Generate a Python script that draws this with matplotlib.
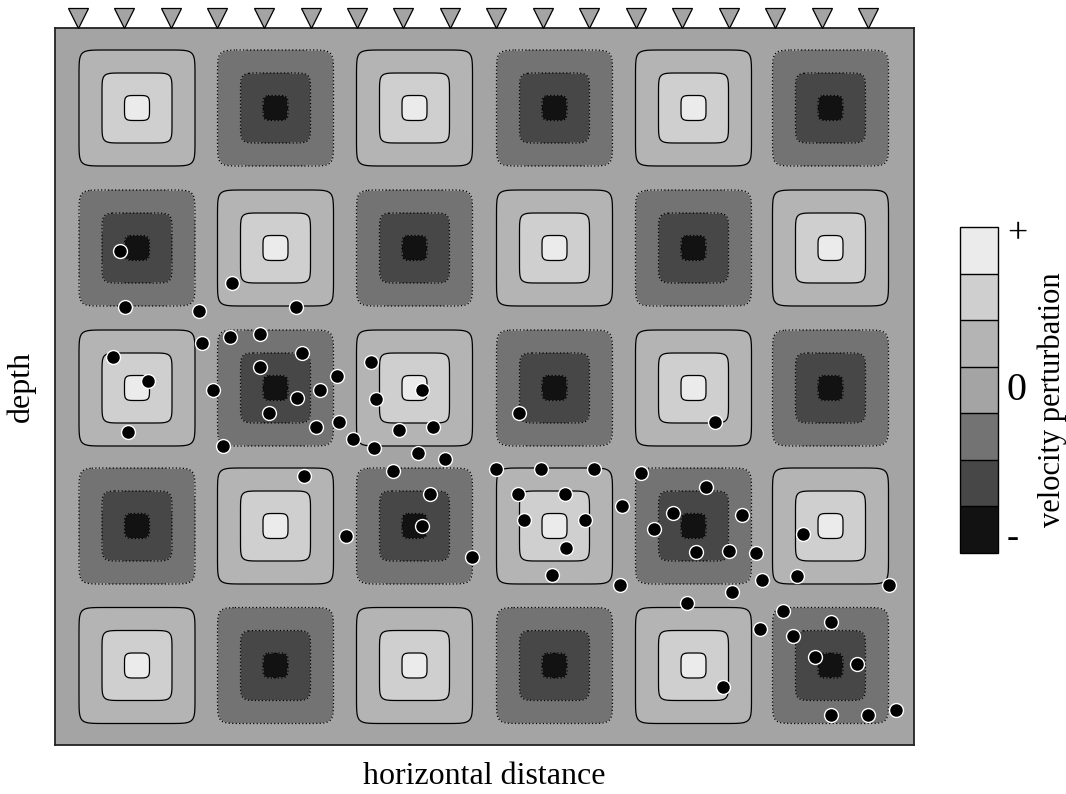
import numpy as np
import matplotlib
matplotlib.use("Agg")
import matplotlib.pyplot as plt
from matplotlib.colors import ListedColormap
from matplotlib import transforms

plt.rcParams['font.family'] = ['Liberation Serif', 'DejaVu Serif']

# checkerboard model: sign of each anomaly (rows = depth, cols = distance)
signs = [[1, -1, 1, -1, 1, -1],
         [-1, 1, -1, 1, -1, 1],
         [1, -1, 1, -1, 1, -1],
         [-1, 1, -1, 1, -1, 1],
         [1, -1, 1, -1, 1, -1]]
col_centers = [8.2, 22.05, 35.95, 49.95, 63.85, 77.55]
row_centers = [8.0, 22.0, 36.0, 49.8, 63.75]
# half widths of the three nested contours (inner, middle, outer)
contour_radii = [1.25, 3.5, 5.8]
# squareness of each contour (higher = sharper corners)
contour_power = [5, 9, 12]

level_colors = ['#121212', '#474747', '#737373', '#a4a4a4', '#b4b4b4', '#cfcfcf', '#ebebeb']

# stations along the surface
station_x = [2.3, 6.95, 11.6, 16.25, 20.9, 25.55, 30.2, 34.85, 39.5,
             44.15, 48.8, 53.45, 58.1, 62.75, 67.4, 72.05, 76.7, 81.3]

# earthquake hypocentres
quake_x = [6.5, 17.7, 7.0, 14.4, 24.1, 14.7, 17.5, 20.5, 24.7, 5.8,
           9.3, 20.5, 31.6, 28.2, 15.8, 24.2, 26.5, 32.1, 36.7, 21.4,
           26.1, 28.4, 29.8, 31.9, 34.4, 37.8, 7.3, 16.8, 36.3, 39.0,
           33.8, 24.9, 44.1, 48.6, 53.9, 58.6, 37.5, 46.3, 51.0, 56.7,
           65.1, 61.8, 68.7, 46.9, 53.0, 59.9, 36.7, 29.1, 41.7, 51.1,
           64.1, 67.4, 70.1, 49.7, 56.5, 70.7, 74.2, 83.4, 63.2, 67.7,
           72.8, 77.6, 70.5, 73.8, 76.0, 80.2, 66.8, 77.6, 81.3, 84.1,
           74.8, 46.4, 66.0]
quake_z = [22.3, 25.5, 27.9, 28.3, 27.9, 31.5, 30.9, 30.6, 32.5, 32.9,
           35.3, 33.9, 33.4, 34.8, 36.2, 37.0, 36.2, 37.1, 36.2, 38.5,
           39.9, 39.4, 41.1, 42.0, 40.2, 39.9, 40.4, 41.8, 42.5, 43.1,
           44.3, 44.8, 44.1, 44.1, 44.1, 44.5, 46.6, 46.6, 46.6, 47.8,
           45.9, 48.5, 48.7, 49.2, 49.2, 50.1, 49.8, 50.8, 52.9, 52.0,
           52.4, 52.3, 52.5, 54.7, 55.7, 55.2, 54.8, 55.7, 57.5, 56.4,
           58.3, 59.4, 60.1, 60.8, 62.9, 63.6, 65.9, 68.7, 68.7, 68.2,
           50.6, 38.5, 39.4]

XMAX, ZMAX = 85.9, 71.7

# build the perturbation field: each nested contour adds one step
x = np.linspace(0, XMAX, 1400)
z = np.linspace(0, ZMAX, 1170)
X, Z = np.meshgrid(x, z)
F = np.zeros_like(X)
for i, zc in enumerate(row_centers):
    for j, xc in enumerate(col_centers):
        dx = np.abs(X - xc)
        dz = np.abs(Z - zc)
        g = np.zeros_like(X)
        for h, p in zip(contour_radii, contour_power):
            r = (dx ** p + dz ** p) ** (1.0 / p)
            g += np.clip(0.5 + (h - r) / 0.4, 0, 1)
        F += signs[i][j] * g

fig = plt.figure(figsize=(10.66, 7.94), dpi=100)
ax = fig.add_axes([55 / 1066, 1 - 745 / 794, 859 / 1066, 717 / 794])

cmap = ListedColormap(level_colors)
levels = [-4, -2.5, -1.5, -0.5, 0.5, 1.5, 2.5, 4]
cf = ax.contourf(X, Z, F, levels=levels, cmap=cmap)
ax.contour(X, Z, F, levels=[0.5, 1.5, 2.5], colors='k',
           linewidths=0.9, linestyles='solid')
ax.contour(X, Z, F, levels=[-2.5, -1.5, -0.5], colors='k',
           linewidths=0.9, linestyles=[(0, (1, 1.8))])

ax.plot(quake_x, quake_z, 'o', color='k', markeredgecolor='white',
        markeredgewidth=1.0, markersize=10, zorder=5)

ax.set_xlim(0, XMAX)
ax.set_ylim(ZMAX, 0)
ax.set_xticks([])
ax.set_yticks([])
for s in ax.spines.values():
    s.set_color('#222222')
    s.set_linewidth(1.3)

# stations sit on top of the frame
trans = transforms.blended_transform_factory(ax.transData, ax.transAxes)
ax.plot(station_x, [1 + 10 / 717] * len(station_x), 'v', transform=trans,
        clip_on=False, markersize=14.5, markerfacecolor='#a4a4a4',
        markeredgecolor='k', markeredgewidth=0.9, zorder=6)

ax.set_xlabel('horizontal distance', fontsize=23, labelpad=12)
ax.set_ylabel('depth', fontsize=23, labelpad=14)

cax = fig.add_axes([960 / 1066, 1 - 553 / 794, 38 / 1066, 326 / 794])
cb = fig.colorbar(cf, cax=cax, drawedges=True, ticks=[])
cb.outline.set_linewidth(1.0)
cb.dividers.set_linewidth(1.0)
fig.text(1017 / 1066, 1 - 235 / 794, '+', fontsize=26, ha='center', va='center')
fig.text(1017 / 1066, 1 - 390 / 794, '0', fontsize=29, ha='center', va='center')
fig.text(1013 / 1066, 1 - 538 / 794, '-', fontsize=26, ha='center', va='center')
fig.text(1052 / 1066, 1 - 400 / 794, 'velocity perturbation', fontsize=22,
         rotation=90, ha='center', va='center')

fig.savefig('out.png', dpi=100)
